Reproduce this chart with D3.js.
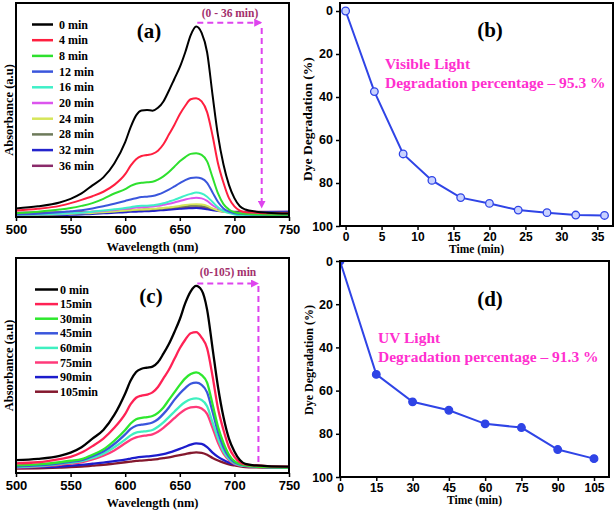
<!DOCTYPE html>
<html><head><meta charset="utf-8">
<script src="https://cdn.jsdelivr.net/npm/d3@7"></script>
<style>body{margin:0;background:#fff}svg{display:block}</style>
</head><body>
<svg id="c" width="614" height="510"></svg>
<script>
// ---------- DATA ----------
const wavelength = [500,520,540,550,560,570,580,590,600,605,610,615,620,625,630,635,640,645,650,655,660,665,670,675,680,685,690,695,700,705,710,720,730,750];

// panel (a) – visible light spectra
const visLabels = ["0 min","4 min","8 min","12 min","16 min","20 min","24 min","28 min","32 min","36 min"];
const visColors = ["#000000","#ff1f3f","#2ee02e","#3a56dc","#3ff0c8","#dc55ee","#d6e65a","#6d7a5a","#2424cc","#8a2a6a"];
const a0  = [0.040,0.050,0.068,0.085,0.110,0.148,0.185,0.250,0.350,0.420,0.475,0.498,0.500,0.497,0.510,0.540,0.590,0.645,0.700,0.770,0.850,0.890,0.860,0.770,0.570,0.380,0.245,0.150,0.088,0.050,0.035,0.025,0.020,0.016];
const a4  = [0.030,0.038,0.052,0.065,0.080,0.097,0.118,0.150,0.200,0.240,0.270,0.285,0.290,0.295,0.310,0.340,0.385,0.430,0.480,0.520,0.550,0.555,0.540,0.490,0.380,0.250,0.160,0.088,0.050,0.030,0.022,0.020,0.018,0.018];
const a8  = [0.018,0.025,0.035,0.042,0.052,0.065,0.085,0.110,0.130,0.145,0.155,0.160,0.162,0.165,0.175,0.190,0.210,0.235,0.260,0.280,0.295,0.298,0.290,0.260,0.185,0.110,0.060,0.035,0.022,0.017,0.015,0.012,0.011,0.010];
const a12 = [0.012,0.015,0.022,0.027,0.032,0.040,0.050,0.062,0.075,0.082,0.088,0.093,0.095,0.098,0.105,0.115,0.128,0.143,0.158,0.172,0.182,0.185,0.180,0.160,0.115,0.070,0.040,0.025,0.018,0.015,0.013,0.012,0.011,0.010];
const a16 = [0.010,0.012,0.015,0.017,0.020,0.025,0.030,0.036,0.042,0.046,0.050,0.052,0.053,0.055,0.058,0.064,0.072,0.080,0.090,0.100,0.108,0.114,0.110,0.095,0.070,0.045,0.028,0.018,0.012,0.008,0.006,0.005,0.005,0.005];
const a20 = [0.012,0.013,0.015,0.017,0.020,0.024,0.028,0.033,0.038,0.041,0.044,0.046,0.047,0.049,0.052,0.057,0.062,0.068,0.075,0.082,0.087,0.090,0.087,0.075,0.055,0.040,0.030,0.024,0.020,0.018,0.016,0.015,0.015,0.015];
const a24 = [0.010,0.011,0.013,0.015,0.017,0.019,0.022,0.026,0.030,0.032,0.034,0.035,0.036,0.038,0.040,0.042,0.045,0.048,0.052,0.056,0.059,0.060,0.058,0.052,0.040,0.030,0.024,0.020,0.018,0.016,0.014,0.013,0.012,0.012];
const a28 = [0.015,0.016,0.017,0.018,0.020,0.022,0.024,0.027,0.030,0.032,0.033,0.034,0.035,0.036,0.038,0.040,0.042,0.045,0.048,0.050,0.052,0.053,0.051,0.046,0.038,0.032,0.028,0.025,0.022,0.021,0.020,0.020,0.020,0.020];
const a32 = [0.005,0.006,0.008,0.010,0.012,0.014,0.017,0.020,0.022,0.024,0.025,0.026,0.027,0.028,0.030,0.032,0.034,0.036,0.038,0.040,0.041,0.042,0.040,0.036,0.032,0.028,0.025,0.023,0.022,0.022,0.022,0.022,0.023,0.024];
const a36 = [0.020,0.021,0.022,0.022,0.023,0.024,0.026,0.028,0.030,0.031,0.032,0.033,0.034,0.035,0.036,0.037,0.038,0.040,0.041,0.043,0.044,0.045,0.043,0.040,0.035,0.031,0.028,0.026,0.025,0.025,0.025,0.025,0.025,0.025];

// panel (c) – UV light spectra
const uvLabels = ["0 min","15min","30min","45min","60min","75min","90min","105min"];
const uvColors = ["#000000","#ff2255","#2ee82e","#3a56dc","#3ff0c0","#ff3a7a","#1c1ccc","#84182e"];
const c0   = [0.060,0.066,0.080,0.095,0.120,0.160,0.200,0.270,0.370,0.430,0.470,0.485,0.490,0.495,0.515,0.555,0.600,0.655,0.715,0.790,0.845,0.870,0.850,0.760,0.580,0.400,0.260,0.160,0.100,0.060,0.042,0.035,0.032,0.030];
const c15  = [0.045,0.050,0.065,0.075,0.095,0.125,0.160,0.210,0.275,0.320,0.350,0.360,0.365,0.375,0.400,0.440,0.480,0.530,0.580,0.620,0.650,0.655,0.630,0.580,0.450,0.300,0.200,0.120,0.075,0.050,0.040,0.035,0.032,0.030];
const c30  = [0.035,0.040,0.050,0.057,0.065,0.085,0.110,0.150,0.200,0.230,0.250,0.256,0.260,0.265,0.280,0.305,0.340,0.375,0.410,0.440,0.460,0.468,0.455,0.420,0.320,0.215,0.140,0.085,0.055,0.042,0.035,0.030,0.028,0.025];
const c45  = [0.030,0.035,0.045,0.052,0.060,0.078,0.100,0.135,0.180,0.205,0.220,0.225,0.228,0.235,0.250,0.275,0.305,0.340,0.370,0.395,0.415,0.420,0.410,0.375,0.285,0.190,0.120,0.075,0.050,0.040,0.035,0.030,0.028,0.025];
const c60  = [0.028,0.032,0.042,0.048,0.055,0.070,0.090,0.120,0.155,0.175,0.188,0.192,0.195,0.200,0.215,0.235,0.260,0.285,0.310,0.330,0.343,0.347,0.340,0.310,0.235,0.160,0.100,0.065,0.045,0.037,0.033,0.030,0.027,0.025];
const c75  = [0.025,0.030,0.038,0.044,0.050,0.063,0.080,0.105,0.138,0.155,0.166,0.172,0.175,0.180,0.192,0.210,0.232,0.255,0.277,0.295,0.305,0.308,0.300,0.275,0.210,0.140,0.090,0.060,0.042,0.035,0.032,0.030,0.027,0.025];
const c90  = [0.025,0.027,0.030,0.034,0.038,0.043,0.048,0.055,0.062,0.067,0.072,0.075,0.077,0.080,0.083,0.088,0.095,0.103,0.112,0.122,0.132,0.138,0.135,0.120,0.095,0.075,0.060,0.048,0.040,0.035,0.032,0.030,0.027,0.025];
const c105 = [0.020,0.022,0.025,0.027,0.030,0.034,0.038,0.044,0.050,0.053,0.056,0.058,0.060,0.062,0.065,0.069,0.073,0.078,0.083,0.088,0.093,0.096,0.094,0.085,0.070,0.058,0.048,0.040,0.035,0.031,0.028,0.026,0.025,0.025];

// panel (b) – visible light degradation
const visTime = [0,4,8,12,16,20,24,28,32,36];
const visDeg  = [0,37.5,66.5,78.8,86.8,89.5,92.6,93.8,94.9,95.1];
// panel (d) – UV light degradation
const uvTime = [0,15,30,45,60,75,90,105];
const uvDeg  = [0,52.5,65.2,69.1,75.4,77.1,87.3,91.5];

const wlTicks = [500,550,600,650,700,750];
const visTimeTicks = [0,5,10,15,20,25,30,35];
const uvTimeTicks = [0,15,30,45,60,75,90,105];
const degTicks = [0,20,40,60,80,100];

// ---------- DRAW ----------
const svg = d3.select("#c");
const SERIF = "'Liberation Serif','Times New Roman',serif";
const SANS = "'Liberation Sans',Arial,sans-serif";
const ARROW = "#de44ee", ARROWTXT = "#a3306c", PINK = "#ff2fcf", LINEBLUE = "#2f44e6";

const defs = svg.append("defs");
function clip(id, b){ defs.append("clipPath").attr("id",id).append("rect")
  .attr("x",b.l).attr("y",b.t).attr("width",b.r-b.l).attr("height",b.b-b.t); }
defs.append("marker").attr("id","ah").attr("viewBox","0 0 10 10").attr("refX",8).attr("refY",5)
  .attr("markerWidth",4).attr("markerHeight",4).attr("orient","auto")
  .append("path").attr("d","M0,0 L10,5 L0,10 z").attr("fill",ARROW);

function frame(b){
  svg.append("rect").attr("x",b.l).attr("y",b.t).attr("width",b.r-b.l).attr("height",b.b-b.t)
    .attr("fill","none").attr("stroke","#000").attr("stroke-width",2);
}
function xAxis(b, x, ticks, fs, dy){
  const g = svg.append("g").attr("transform",`translate(0,${b.b})`)
    .call(d3.axisBottom(x).tickValues(ticks).tickSize(4).tickSizeOuter(0).tickPadding(3));
  g.select(".domain").remove();
  g.selectAll("line").attr("stroke","#000").attr("stroke-width",1.5);
  g.selectAll("text").attr("font-family",SANS).attr("font-weight","bold").attr("font-size",fs).attr("fill","#000").attr("dy",dy);
}
function yAxis(b, y, ticks, fs){
  const g = svg.append("g").attr("transform",`translate(${b.l},0)`)
    .call(d3.axisLeft(y).tickValues(ticks).tickSize(4).tickSizeOuter(0).tickPadding(3));
  g.select(".domain").remove();
  g.selectAll("line").attr("stroke","#000").attr("stroke-width",1.5);
  g.selectAll("text").attr("font-family",SANS).attr("font-weight","bold").attr("font-size",fs).attr("fill","#000");
}
function txt(x,y,s,fs,opt={}){
  const t = svg.append("text").attr("x",x).attr("y",y).text(s)
    .attr("font-family",opt.font||SERIF).attr("font-weight","bold").attr("font-size",fs)
    .attr("fill",opt.fill||"#000").attr("text-anchor",opt.anchor||"middle");
  if(opt.rot) t.attr("transform",`rotate(-90,${x},${y})`);
  return t;
}

function spectra(b, id, seriesArr, colors, labels, leg, tag, arrow){
  clip(id,b);
  const x = d3.scaleLinear().domain([500,750]).range([b.l,b.r]);
  const y = d3.scaleLinear().domain([0,1]).range([b.b,b.t]);
  const line = d3.line().x((d,i)=>x(wavelength[i])).y(d=>y(d)).curve(d3.curveMonotoneX);
  const g = svg.append("g").attr("clip-path",`url(#${id})`);
  // draw last series first so black is on top
  seriesArr.map((s,i)=>({s,i})).reverse().forEach(({s,i})=>{
    g.append("path").attr("d",line(s)).attr("fill","none").attr("stroke",colors[i])
      .attr("stroke-width",leg.lw).attr("stroke-linejoin","round");
  });
  // legend
  labels.forEach((lab,i)=>{
    const yy = leg.y0 + i*leg.dy;
    svg.append("line").attr("x1",leg.x1).attr("x2",leg.x2).attr("y1",yy).attr("y2",yy)
      .attr("stroke",colors[i]).attr("stroke-width",2.5);
    txt(leg.tx, yy+4, lab, 12, {anchor:"start"});
  });
  txt(tag.x, tag.y, tag.s, 21);
  // arrow annotation
  const dash = "6,4";
  svg.append("line").attr("x1",x(arrow.hx0)).attr("x2",x(arrow.hx1)).attr("y1",arrow.hy).attr("y2",arrow.hy)
    .attr("stroke",ARROW).attr("stroke-width",2).attr("stroke-dasharray",dash).attr("marker-end","url(#ah)");
  const v = svg.append("line").attr("x1",x(arrow.vx)).attr("x2",x(arrow.vx)).attr("y1",arrow.vy0).attr("y2",arrow.vy1)
    .attr("stroke",ARROW).attr("stroke-width",2).attr("stroke-dasharray",dash);
  if(arrow.down) v.attr("marker-end","url(#ah)");
  txt(arrow.tx, arrow.ty, arrow.label, 11.5, {fill:ARROWTXT});
  frame(b);
  xAxis(b, x, wlTicks, 13, "0.75em");
  txt((b.l+b.r)/2, b.b+34, "Wavelength (nm)", 12.5);
  txt(13, (b.t+b.b)/2, "Absorbance (a.u)", 12.5, {rot:true});
}

function degradation(b, id, xdom, time, deg, ticks, filled, note, tag, ytitle){
  clip(id,b);
  const x = d3.scaleLinear().domain(xdom).range([b.l,b.r]);
  const y = d3.scaleLinear().domain(ytitle.dom).range([b.t,b.b]);
  const pts = time.map((t,i)=>[t,deg[i]]);
  const g = svg.append("g").attr("clip-path",`url(#${id})`);
  g.append("path").attr("d",d3.line().x(d=>x(d[0])).y(d=>y(d[1]))(pts))
    .attr("fill","none").attr("stroke",LINEBLUE).attr("stroke-width",2);
  g.selectAll("circle").data(pts).join("circle").attr("cx",d=>x(d[0])).attr("cy",d=>y(d[1]))
    .attr("r",3.8).attr("fill",filled?LINEBLUE:"#c9d2ff").attr("stroke",LINEBLUE).attr("stroke-width",1.3);
  frame(b);
  xAxis(b, x, ticks, 12, "0.68em");
  yAxis(b, y, degTicks, 12.5);
  txt((b.l+b.r)/2, b.b+27, "Time (min)", 11.5);
  txt(ytitle.x, ytitle.cy, "Dye Degradation (%)", ytitle.fs, {rot:true});
  txt(tag.x, tag.y, tag.s, 21);
  txt(note.x, note.y1, note.l1, 15.5, {anchor:"start", fill:PINK});
  txt(note.x, note.y2, note.l2, 15.5, {anchor:"start", fill:PINK});
}

const A = {l:16,r:289,t:3,b:217};
const B = {l:340,r:613,t:3,b:226};
const C = {l:16,r:289,t:258,b:473};
const D = {l:340,r:609,t:261,b:477};

spectra(A, "clipA", [a0,a4,a8,a12,a16,a20,a24,a28,a32,a36], visColors, visLabels,
  {x1:32,x2:53,tx:59,y0:24.5,dy:15.7,lw:2},
  {x:149,y:38,s:"(a)"},
  {hx0:666,hx1:724,hy:22.7,vx:725,vy0:28,vy1:207,down:true,tx:230,ty:17,label:"(0 - 36 min)"});

spectra(C, "clipC", [c0,c15,c30,c45,c60,c75,c90,c105], uvColors, uvLabels,
  {x1:35,x2:58,tx:60,y0:289.5,dy:14.6,lw:2.3},
  {x:151,y:303,s:"(c)"},
  {hx0:666,hx1:721,hy:283.5,vx:722,vy0:286,vy1:465,down:false,tx:228,ty:276,label:"(0-105) min"});

degradation(B, "clipB", [-0.78,37.18], visTime, visDeg, visTimeTicks, false,
  {x:385,y1:69,l1:"Visible Light",y2:88,l2:"Degradation percentage \u2013 95.3 %"},
  {x:490,y:37,s:"(b)"},
  {dom:[-3.72,100], x:312, cy:119, fs:13.5});

degradation(D, "clipD", [0,111.2], uvTime, uvDeg, uvTimeTicks, true,
  {x:378,y1:343,l1:"UV Light",y2:362,l2:"Degradation percentage \u2013 91.3 %"},
  {x:490,y:306,s:"(d)"},
  {dom:[0,100], x:313, cy:360, fs:12});
</script>
</body></html>
